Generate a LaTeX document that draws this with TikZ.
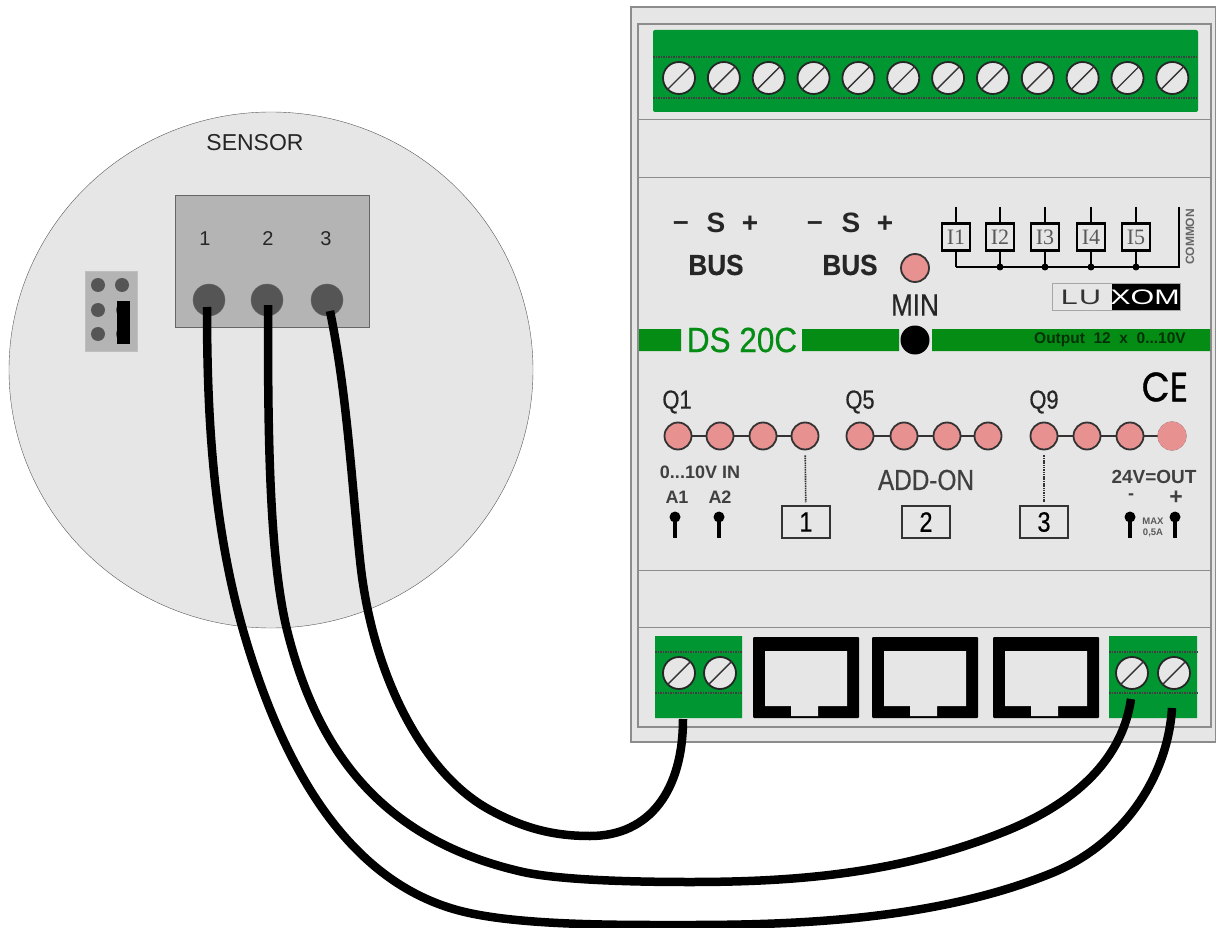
\documentclass[tikz,border=0pt]{standalone}
\usepackage{fontspec}
\setmainfont{Liberation Sans}
\newfontfamily\serifface{Liberation Serif}
\newfontfamily\narrowface[FakeStretch=0.84,FakeBold=0.5]{Liberation Sans}
\newfontfamily\midface[FakeStretch=0.9,FakeBold=0.5]{Liberation Sans}
\newfontfamily\wideface[FakeStretch=1.45]{Liberation Sans}
\newfontfamily\roundface[FakeStretch=0.88,FakeBold=1]{Poppins}
\definecolor{panelgray}{RGB}{230,230,230}
\definecolor{edgegray}{RGB}{140,140,140}
\definecolor{termgreen}{RGB}{0,150,50}
\definecolor{bargreen}{RGB}{5,140,20}
\definecolor{ledpink}{RGB}{232,145,145}
\definecolor{boxgray}{RGB}{180,180,180}
\definecolor{pingray}{RGB}{85,85,85}
\tikzset{
  screw/.style={circle,draw=black!85,line width=1.8pt,fill=panelgray,minimum size=32pt,inner sep=0pt},
  led/.style={circle,draw=black!80,line width=1.8pt,fill=ledpink,minimum size=27pt,inner sep=0pt},
  hole/.style={circle,draw=black!60,fill=pingray,minimum size=32pt,inner sep=0pt},
  dot/.style={circle,fill=pingray,minimum size=14pt,inner sep=0pt},
  wire/.style={line width=8.5pt,black},
  seam/.style={black!75,line width=1.2pt,dash pattern=on 1.5pt off 1pt},
  lab/.style={inner sep=0pt,text=black!85},
  bigbold/.style={lab,font=\midface\fontsize{29}{29}\selectfont\bfseries},
  signbold/.style={lab,anchor=base,font=\fontsize{28}{28}\selectfont\bfseries},
  smalltxt/.style={lab,font=\fontsize{20}{20}\selectfont},
  smallbold/.style={lab,font=\fontsize{18}{18}\selectfont\bfseries,text=black!75},
  numbox/.style={draw=black!80,line width=1.5pt,fill=panelgray,minimum width=48pt,minimum height=32pt,inner sep=0pt,font=\narrowface\fontsize{28}{28}\selectfont},
  inbox/.style={draw=black,line width=2.5pt,fill=panelgray,minimum width=28pt,minimum height=27pt,inner sep=0pt,font=\serifface\fontsize{22}{22}\selectfont,text=black!65},
  junction/.style={circle,fill=black,minimum size=7pt,inner sep=0pt},
  pinhead/.style={circle,fill=black,minimum size=11pt,inner sep=0pt},
}
\begin{document}
\begin{tikzpicture}[x=1pt,y=-1pt]
\useasboundingbox (0,0) rectangle (1216,928);
% sensor
\draw[draw=black!65,fill=panelgray] (271,370) ellipse (262 and 258);
\node[lab,font=\fontsize{23}{23}\selectfont] (sensorlabel) at (255,143) {SENSOR};
\draw[draw=black!60,line width=1pt,fill=boxgray] (175,196) rectangle (369,327);
\node[smalltxt] (num1) at (205,239) {1};
\node[smalltxt] (num2) at (268,239) {2};
\node[smalltxt] (num3) at (326,239) {3};
\node[hole] (hole1) at (209,300) {};
\node[hole] (hole2) at (267,300) {};
\node[hole] (hole3) at (327,300) {};
\fill[boxgray,draw=black!25] (85,271) rectangle (137,351);
\foreach \n/\x/\y in {a/98/285,b/122/285,c/98/310,d/98/334,e/123/310,f/123/334}
  \node[dot] (jump\n) at (\x,\y) {};
\fill[black] (117,301) rectangle (130,344);
% module
\draw[draw=edgegray,line width=1.3pt,fill=panelgray] (631,7) rectangle (1216,742);
\draw[draw=edgegray,line width=1.3pt] (638,24) rectangle (1211,727);
\draw[edgegray,line width=1pt] (638,120) -- (1211,120) (638,178) -- (1211,178) (638,570) -- (1211,570) (638,627) -- (1211,627);
% top terminals
\fill[termgreen,rounded corners=2pt] (653,30) rectangle (1198,112);
\draw[seam] (653,57) -- (1198,57) (653,98) -- (1198,98);
\foreach \i in {0,...,11}{
  \node[screw] (top\i) at (679+\i*44.85,78) {};
  \draw[black!80,line width=1.4pt] (top\i.south west) -- (top\i.north east);
}
% bus row
\foreach \n/\x/\y/\t in {a/681/231/--,b/716/233/S,c/750/233/+,d/815/231/--,e/851/233/S,f/885/233/+}
  \node[signbold] (bus\n) at (\x,\y) {\t};
\node[bigbold] (busleft) at (716,265) {BUS};
\node[bigbold] (busright) at (850,265) {BUS};
\node[led,minimum size=28pt] (minled) at (915,268) {};
\node[lab,font=\narrowface\fontsize{31}{31}\selectfont] (minlabel) at (915,305) {MIN};
% inputs
\draw[black,line width=2pt] (956,267) -- (1179,267) -- (1179,207);
\foreach \i/\x in {1/956,2/1000,3/1045,4/1091,5/1136}{
  \draw[black,line width=2pt] (\x,207) -- (\x,267);
  \node[inbox] (in\i) at (\x,237) {I\i};
  \ifnum\i>1 \node[junction] (jn\i) at (\x,267) {}; \fi
}
\node[lab,rotate=90,font=\fontsize{12}{12}\selectfont\bfseries,text=black!60] (common) at (1190,237) {COMMON};
% logo
\draw[draw=black!35,fill=panelgray] (1052,283) rectangle (1180,310);
\fill[black] (1112,284) rectangle (1180,310);
\node[lab,font=\wideface\fontsize{21}{21}\selectfont,text=black!80] (logoa) at (1081,297) {\addfontfeatures{LetterSpace=6}LU};
\node[lab,font=\wideface\fontsize{21}{21}\selectfont,text=white] (logob) at (1145,297) {XOM};
% green bar
\fill[bargreen] (639,329) rectangle (681,351) (802,329) rectangle (899,351) (932,329) rectangle (1210,351);
\node[lab,font=\midface\fontsize{35}{35}\selectfont,text=bargreen] (model) at (742,340) {DS 20C};
\node[circle,fill=black,minimum size=29pt,inner sep=0pt] (minknob) at (915,340) {};
\node[lab,font=\fontsize{15.5}{15.5}\selectfont\bfseries,text=black!65!bargreen] (output) at (1110,340) {Output\ \ 12\ \ x\ \ 0...10V};
% outputs
\node[lab,font=\roundface\fontsize{41}{41}\selectfont,text=black] (cemark) at (1165,387) {CE};
\foreach \n/\x in {1/677,5/860,9/1044}
  \node[lab,font=\narrowface\fontsize{26}{26}\selectfont] (q\n) at (\x,402) {Q\n};
\foreach \g/\a/\b/\c/\d in {a/678/720/763/805,b/860/904/947/988,c/1044/1087/1130/1172}{
  \draw[black!80,line width=1.5pt] (\a,436) -- (\d,436);
  \node[led] (led\g1) at (\a,436) {};
  \node[led] (led\g2) at (\b,436) {};
  \node[led] (led\g3) at (\c,436) {};
  \node[led] (led\g4) at (\d,436) {};
}
\node[led,draw=ledpink] at (ledc4) {};
\node[numbox] (box1) at (806,522) {1};
\node[numbox] (box2) at (926,522) {2};
\node[numbox] (box3) at (1044,522) {3};
\draw[black!80,line width=1.6pt,dash pattern=on 1.5pt off 0.8pt,shorten <=5pt,shorten >=3pt] (leda4) -- (box1);
\draw[black!80,line width=1.6pt,dash pattern=on 1.5pt off 0.8pt,shorten <=5pt,shorten >=3pt] (ledc1) -- (box3);
\node[smallbold] (involt) at (700,472) {0...10V IN};
\node[smallbold] (a1) at (677,497) {A1};
\node[smallbold] (a2) at (720,497) {A2};
\node[lab,font=\narrowface\fontsize{29}{29}\selectfont,text=black!75] (addon) at (926,480) {ADD-ON};
\node[lab,font=\fontsize{19}{19}\selectfont\bfseries,text=black!75] (outvolt) at (1154,477) {24V=OUT};
\node[smallbold] (minus) at (1131,497) {-};
\node[lab,font=\fontsize{23}{23}\selectfont\bfseries,text=black!75] (plus) at (1176,498) {+};
\node[lab,align=center,font=\fontsize{9.5}{11}\selectfont\bfseries,text=black!65] (maxload) at (1153,527) {MAX\\0,5A};
\foreach \n/\x in {a/675,b/719,c/1130,d/1175}{
  \node[pinhead] (pin\n) at (\x,517) {};
  \draw[black,line width=3.5pt] (pin\n.center) -- (\x,538);
}
% bottom terminals
\fill[termgreen] (655,636) rectangle (742,718) (1109,636) rectangle (1197,718);
\draw[seam] (655,652) -- (742,652) (655,693) -- (742,693) (1109,652) -- (1197,652) (1109,693) -- (1197,693);
\foreach \n/\x in {a/679,b/720,c/1132,d/1174}{
  \node[screw] (bot\n) at (\x,673) {};
  \draw[black!80,line width=1.4pt] (bot\n.south west) -- (bot\n.north east);
}
\foreach \x in {753,872,993}{
  \fill[black,rounded corners=1pt] (\x,637) rectangle ++(106,81);
  \fill[panelgray] (\x+12,651) -- (\x+94,651) -- (\x+94,706) -- (\x+65,706) -- (\x+65,716) -- (\x+38,716) -- (\x+38,706) -- (\x+12,706) -- cycle;
}
% wires
\coordinate (wireAa) at (207,307);
\coordinate (wireAb) at (1172,708);
\coordinate (wireBa) at (268,305);
\coordinate (wireBb) at (1131,699);
\coordinate (wireCa) at (330,311);
\coordinate (wireCb) at (683,719);
\draw[wire] (wireAa) .. controls (207,417) and (213,524) .. (243,630) .. controls (279,755) and (341,878) .. (457,910) .. controls (515,926) and (620,925) .. (690,925) .. controls (810,925) and (941,918) .. (1052,873) .. controls (1125,843) and (1168,775) .. (wireAb);
\draw[wire] (wireBa) .. controls (268,415) and (268,552) .. (287,630) .. controls (316,746) and (377,839) .. (523,872) .. controls (560,880) and (630,882) .. (690,882) .. controls (800,882) and (899,873) .. (1001,833) .. controls (1050,814) and (1120,775) .. (wireBb);
\draw[wire] (wireCa) .. controls (347,394) and (351,475) .. (360,560) .. controls (371,669) and (420,772) .. (490,810) .. controls (525,829) and (555,836) .. (590,836) .. controls (650,836) and (683,790) .. (wireCb);
\end{tikzpicture}
\end{document}
